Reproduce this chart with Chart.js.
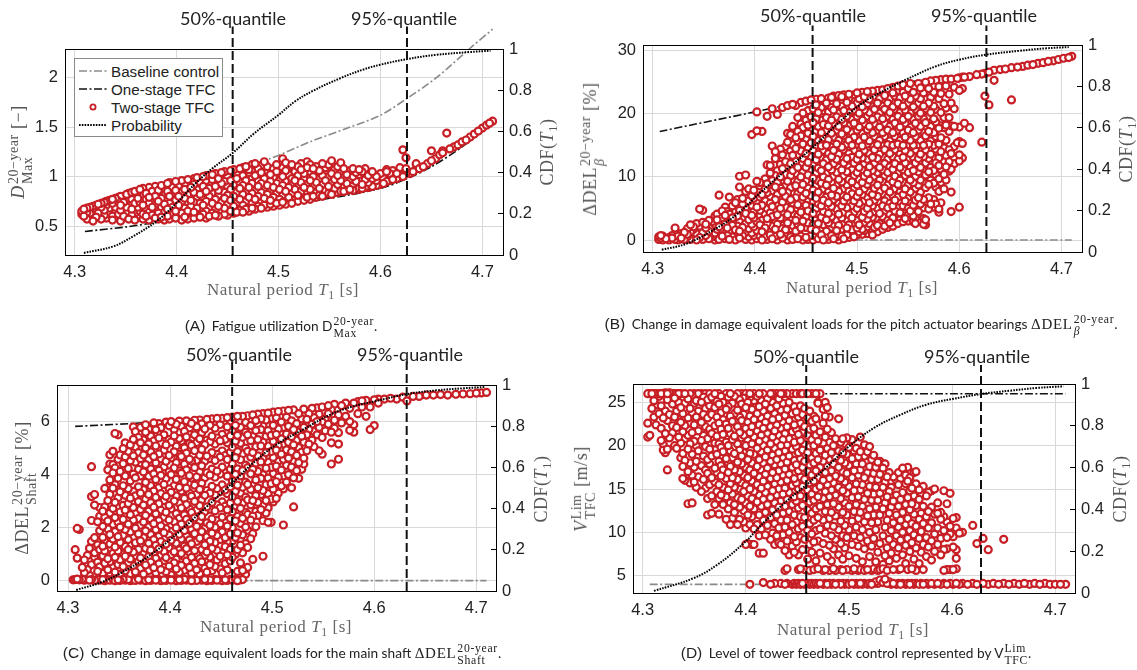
<!DOCTYPE html>
<html>
<head>
<meta charset="utf-8">
<script src="https://cdn.jsdelivr.net/npm/chart.js@4"></script>
<style>
html, body { margin: 0; padding: 0; background: #fff; }
#page { position: relative; width: 1137px; height: 670px; overflow: hidden; }
canvas { position: absolute; }
.lbl { position: absolute; white-space: nowrap; line-height: 1; }
.quant { font: 18px Lato, sans-serif; color: #222; transform: translate(-50%, -50%); }
.axis { font: 17px "Liberation Serif", serif; color: #666; letter-spacing: .55px; transform: translate(-50%, -50%); }
.axis.rot { font-size: 18px; color: #555; transform: translate(-50%, -50%) rotate(-90deg); }
.cap { font: 13.7px Lato, sans-serif; color: #222; transform: translate(-50%, -50%); }
.cap b { font: 15.5px "Liberation Sans", sans-serif; margin-right: 3px; }
.cap .m { font-family: "Liberation Serif", serif; font-size: 15px; letter-spacing: .7px; }
.stack { display: inline-flex; flex-direction: column; vertical-align: middle; font-size: .78em; line-height: 1; text-align: left; margin-left: 1px; }
i { font-style: italic; }
sub { font-size: .7em; line-height: 0; }
#legend { position: absolute; left: 74px; top: 58px; width: 147px; height: 77px; background: #fff; border: 1px solid #8a8a8a; font: 15.2px "Liberation Sans", sans-serif; color: #222; }
#legend div { position: absolute; left: 36px; white-space: nowrap; line-height: 1; }
#legend svg { position: absolute; left: 4px; top: 0; }
</style>
</head>
<body>
<div id="page"></div>
<script>
// tick labels
const xTicks = [4.3, 4.4, 4.5, 4.6, 4.7];
const cdfTicks = [0, 0.2, 0.4, 0.6, 0.8, 1];
const yTicksA = [0.5, 1, 1.5, 2];
const yTicksB = [0, 10, 20, 30];
const yTicksC = [0, 2, 4, 6];
const yTicksD = [5, 10, 15, 20, 25];

// quantile positions
const quantA = [4.455, 4.626];
const quantB = [4.4565, 4.6265];
const quantC = [4.4608, 4.6318];
const quantD = [4.4586, 4.628];

// probability curves [T, CDF]
const cdfA = [[4.309,.01],[4.338,.042],[4.357,.09],[4.38,.163],[4.4,.252],[4.419,.35],[4.435,.42],[4.455,.495],[4.476,.59],[4.5,.68],[4.516,.745],[4.533,.795],[4.561,.859],[4.583,.9],[4.6,.924],[4.626,.951],[4.655,.972],[4.687,.985],[4.708,.992]];
const cdfB = [[4.309,.011],[4.333,.04],[4.36,.108],[4.382,.18],[4.405,.285],[4.431,.398],[4.456,.502],[4.48,.615],[4.503,.712],[4.525,.776],[4.548,.833],[4.577,.897],[4.6,.929],[4.626,.953],[4.659,.972],[4.685,.984],[4.707,.99]];
const cdfC = [[4.308,.005],[4.334,.045],[4.36,.11],[4.383,.183],[4.409,.288],[4.436,.41],[4.461,.524],[4.481,.62],[4.504,.71],[4.53,.783],[4.557,.856],[4.579,.896],[4.6,.92],[4.632,.956],[4.661,.974],[4.687,.984],[4.708,.99]];
const cdfD = [[4.311,.01],[4.349,.07],[4.372,.134],[4.398,.238],[4.42,.35],[4.443,.454],[4.459,.518],[4.479,.605],[4.498,.693],[4.524,.789],[4.55,.853],[4.575,.901],[4.6,.928],[4.628,.952],[4.656,.968],[4.682,.981],[4.708,.989]];

// baseline control
const baseA = [[4.31,.68],[4.4,.9],[4.455,1.07],[4.49,1.175],[4.533,1.36],[4.569,1.496],[4.6,1.62],[4.626,1.79],[4.655,2],[4.687,2.29],[4.71,2.49]];
const baseB = [[4.307,0],[4.71,0]];
const baseC = [[4.307,0],[4.71,0]];
const baseD = [[4.307,4],[4.71,4]];

// one-stage TFC
const oneA = [[4.31,.445],[4.35,.49],[4.39,.55],[4.455,.62],[4.5,.7],[4.55,.78],[4.6,.88],[4.626,.98],[4.65,1.1],[4.68,1.3],[4.71,1.55]];
const oneB = [[4.307,17.2],[4.4,20.3],[4.45,22],[4.5,23.3],[4.55,25],[4.6,26],[4.65,27.2],[4.71,29.1]];
const oneC = [[4.307,5.82],[4.38,5.97],[4.46,6.25],[4.55,6.5],[4.6,6.75],[4.65,6.9],[4.71,7.05]];
const oneD = [[4.307,26],[4.71,26]];

// two-stage TFC, one entry per T: [T, [values]]
const twoA = [
[4.307,[.62,.65]],[4.309,[.6,.67]],[4.312,[.57,.64,.68]],[4.315,[.63,.69]],[4.318,[.55,.61,.7]],[4.321,[.59,.67,.71]],[4.323,[.63,.72]],[4.326,[.57,.69,.73]],[4.329,[.61,.66,.74]],[4.331,[.58,.71,.75]],[4.334,[.63,.68,.76]],[4.337,[.56,.6,.73,.77]],[4.34,[.65,.69,.78]],[4.343,[.58,.62,.75,.79]],[4.345,[.55,.66,.71,.8]],
[4.348,[.6,.74,.8]],[4.351,[.64,.69,.76,.82]],[4.353,[.57,.72,.83]],[4.356,[.61,.67,.77,.84]],[4.359,[.56,.63,.73,.85]],[4.362,[.59,.69,.78,.82]],[4.364,[.65,.74,.87]],[4.367,[.57,.62,.71,.8,.88]],[4.37,[.6,.67,.77,.83]],[4.373,[.56,.64,.73,.79,.89]],[4.376,[.61,.69,.76,.85]],[4.379,[.58,.66,.72,.8,.9]],
[4.382,[.57,.63,.75,.84,.86]],[4.385,[.59,.69,.78,.91]],[4.388,[.56,.64,.72,.82,.88]],[4.391,[.6,.67,.77,.85,.93]],[4.393,[.57,.73,.8,.94]],[4.396,[.62,.69,.83,.89]],[4.399,[.58,.65,.76,.86,.95]],[4.402,[.6,.71,.8,.91]],[4.405,[.56,.63,.74,.84,.96]],[4.408,[.59,.68,.78,.87,.93]],[4.411,[.57,.65,.72,.82,.97]],[4.414,[.6,.7,.76,.89,.95]],
[4.417,[.58,.64,.74,.84,.92,.98]],[4.42,[.61,.68,.79,.87,.99]],[4.423,[.59,.66,.73,.82,.94]],[4.426,[.62,.71,.77,.9,1]],[4.429,[.58,.65,.75,.85,.96,1.01]],[4.432,[.6,.69,.8,.88,.92]],[4.435,[.63,.73,.83,.97,1.02]],[4.438,[.61,.67,.77,.9,1.03]],[4.441,[.6,.7,.81,.86,.98]],[4.444,[.64,.74,.93,1.04]],
[4.447,[.62,.68,.78,.84,.95,1.05]],[4.45,[.61,.72,.81,.9,1]],[4.453,[.65,.76,.87,.96,1.06]],[4.456,[.63,.7,.8,.92,1.07]],[4.459,[.64,.73,.84,.98,1.03]],[4.462,[.66,.77,.88,.94,1.08]],[4.465,[.64,.71,.82,.91,1.01,1.09]],[4.468,[.67,.75,.85,.96,1.1]],[4.471,[.65,.79,.89,1.04,1.07]],[4.474,[.68,.73,.83,.93,.99,1.12]],
[4.477,[.67,.77,.86,1.01,1.13]],[4.48,[.7,.8,.9,.96,1.08]],[4.483,[.68,.74,.84,.93,1.04,1.11]],[4.486,[.71,.78,.88,.98,1.15]],[4.489,[.69,.82,.91,1.06,1.1]],[4.492,[.72,.76,.86,.95,1.02]],[4.495,[.7,.79,.89,.99,1.08]],[4.498,[.73,.83,.93,1.05,1.12]],[4.501,[.71,.77,.87,.96,1.03]],[4.504,[.74,.81,.91,1,1.09,1.18]],
[4.507,[.72,.85,.95,1.06,1.14]],[4.51,[.75,.79,.89,1.02,1.1]],[4.513,[.73,.83,.93,.98,1.12]],[4.516,[.76,.87,.96,1.05]],[4.519,[.75,.81,.91,1.01,1.1]],[4.522,[.78,.85,.94,1.07,1.13]],[4.525,[.76,.89,.98,1.03]],[4.528,[.79,.83,.92,1.09,1.15]],[4.531,[.77,.87,.96,1.05,1.12]],[4.534,[.8,.91,1,1.08]],
[4.537,[.79,.84,.94,1.03,1.1]],[4.54,[.81,.88,.98,1.06]],[4.543,[.8,.92,1.01,1.13]],[4.546,[.82,.86,.96,1.05,1.09]],[4.549,[.83,.9,1,1.12]],[4.552,[.82,.94,1.03,1.16]],[4.555,[.84,.88,.97,1.07]],[4.558,[.84,.92,1.01,1.1]],[4.561,[.85,.96,1.04,1.14]],[4.564,[.85,.89,.99,1.08]],[4.567,[.86,.93,1.02]],
[4.57,[.87,.97,1.06]],[4.573,[.86,.91,1,1.08]],[4.576,[.88,.95,1.04]],[4.579,[.87,.98,1.02,1.07]],[4.582,[.88,.92,1.05]],[4.585,[.89,.97,1.08]],[4.588,[.89,.94,1.01,1.03]],[4.592,[.9,.98,1.05]],[4.596,[.91,.96,1]],[4.6,[.92,1.03]],[4.603,[.93,.98]],[4.606,[.95,1.05,1.07]],[4.609,[.96,1.03]],[4.612,[.97,1.06]],[4.616,[.98,1.03]],
[4.619,[1,1.09]],[4.622,[1,1.27]],[4.625,[1.03,1.08,1.19]],[4.629,[1.03]],[4.632,[1.05]],[4.635,[1.08,1.13]],[4.638,[1.08]],[4.642,[1.1]],[4.646,[1.13]],[4.65,[1.16,1.26]],[4.654,[1.18]],[4.658,[1.22]],[4.661,[1.24,1.26]],[4.665,[1.44]],[4.668,[1.28]],[4.672,[1.3]],[4.676,[1.32]],[4.68,[1.35]],[4.684,[1.37]],[4.688,[1.4]],[4.692,[1.43]],[4.696,[1.46]],[4.7,[1.49]],[4.704,[1.52]],[4.707,[1.54]],[4.71,[1.56]]
];
const twoB = [
[4.306,[.1,.5]],[4.308,[.3,.7]],[4.31,[0,.6]],[4.313,[.2]],[4.316,[0,.4]],[4.319,[.3,.7]],[4.322,[.1,1.9,.9]],[4.325,[0,.6]],[4.328,[.3,1]],[4.331,[.1,1.2]],[4.334,[.5,1.8,.9]],[4.337,[.1,1.3,2.4]],[4.34,[.6,1.7,2.1]],[4.343,[0,1,2.6]],[4.346,[.4,1.6,2.2,4.9]],[4.349,[.1,1.2,2.8,4.7]],[4.352,[.7,1.9,2.5]],[4.355,[.2,1.4,3.1]],[4.358,[.5,2.2,2.9]],[4.361,[0,1.1,2.5,3.8]],
[4.363,[.4,1.7,3.2,4.1]],[4.365,[.1,2.1,2.8,7.1]],[4.368,[.6,1.4,3.5,4.6]],[4.371,[.2,1,2.5,3.9,5.2]],[4.373,[.7,1.9,3.1,4.5]],[4.375,[.1,1.3,2.7,4.1,6.8]],[4.378,[.5,2.3,3.5,5.4]],[4.381,[0,1.6,3,4.4,5.9]],[4.383,[.9,2.2,3.8,5.1,6.4]],[4.385,[.3,1.4,2.9,4.7,8.4,10.1]],[4.388,[.7,2,3.4,5.7,6.6]],[4.391,[.1,1.2,2.6,4.2,5.1,7.7,10.3]],
[4.394,[.5,1.8,3.2,4.8,6.2,8.1]],[4.397,[0,1.1,2.5,3.9,5.5,7,16.7]],[4.399,[.7,2.1,3.5,4.6,6.6,7.9]],[4.402,[.2,1.5,2.9,5.2,5.9,9.3,17.3,20.3]],[4.405,[.6,2.4,3.8,4.7,6.8,8.6,9.1]],[4.407,[0,1.3,3.1,5.5,7.2,17.2]],[4.41,[.5,1.9,4.1,6.2,8,9.7]],[4.412,[.1,2.6,3.4,5,7.5,8.9,11.9,19.6]],[4.415,[.8,1.5,4.3,5.8,6.9,10.6,11.8]],[4.417,[.2,2.2,3.7,5.3,7.8,9.4,14.9,20.8]],
[4.42,[.6,1.7,3,4.6,6.4,8.4,10.2,12.9,14]],[4.422,[0,2.5,4,5.7,7.2,9.1,11,13.3,19.9]],[4.425,[.9,1.9,3.5,5,6.7,8.2,10,12,14.4]],[4.427,[.3,2.3,4.4,6,7.7,9.5,11.3,13.5,21]],[4.43,[.7,1.6,3.2,5.2,6.9,8.7,10.4,12.4,14.8]],[4.432,[0,2.7,4,5.7,7.5,9.3,11.6,13.2,15.5,16.9,21.3]],[4.435,[.5,1.8,3.5,4.8,6.4,8.3,10.2,12.1,14.1,16.7]],[4.437,[.1,2.3,4.2,5.9,7.6,9.6,11,13.4,15.1,18,21.5]],
[4.44,[.8,1.4,3.1,5,6.7,8.6,10.5,12.5,14.5,16.2,17.5,21.3]],[4.442,[.2,2.5,3.8,5.6,7.4,9.3,11.5,13.5,15.7,17.2,19.4]],[4.445,[.6,1.9,4.4,6.2,8,10,12.2,14.1,16.5,18.4,21.8]],[4.447,[0,3,4.9,6.8,8.8,10.8,12.9,15.2,17.8,20.1]],[4.45,[.4,2,3.7,5.5,7.4,9.4,11.5,13.7,16,19,22]],[4.452,[.1,2.7,4.6,6.1,8.2,10.3,12.3,14.6,16.9,18.2,20.5]],
[4.455,[.7,1.7,3.5,5.2,7,9,11,13.2,15.4,17.5,19.5,22.2]],[4.457,[0,2.4,4.2,6,7.9,9.8,11.9,14.1,16.4,18.6,20.8]],[4.46,[.5,1.5,3.2,5,6.6,8.6,10.6,12.7,15,17.2,19.2,21.4,22.3]],[4.462,[.2,2.6,4.1,5.8,7.6,9.4,11.4,13.6,15.8,18,20.2]],[4.465,[.8,1.9,3.6,5.4,7.1,9,11,13,14.9,17,19,21,22.4]],[4.467,[0,2.4,4.5,6.3,8.1,10,12.1,14.2,16.2,18.3,20.5]],
[4.47,[.5,1.4,3.2,5,6.8,8.7,10.5,12.7,15,17.3,19.4,21.7]],[4.472,[.1,2.7,4.2,5.9,7.6,9.6,11.6,13.7,15.9,18.1,20.3,22.5]],[4.475,[.7,2,3.7,5.3,7.1,9.1,11.1,13.2,14.7,16.9,19,21,22.6]],[4.477,[.2,2.5,4.6,6.4,8.2,10.1,12.1,14.2,16.3,18.5,20.6,22.8]],[4.48,[.5,1.5,3.1,4.9,6.9,8.8,10.7,12.8,15.2,17.4,19.5,21.6]],[4.482,[0,2.3,4.1,5.8,7.7,9.6,11.5,13.6,15.8,18,20.1,22.9]],
[4.485,[.6,1.7,3.5,5.4,7.2,9.2,11.1,13.2,14.7,16.8,19.1,21.2,22.7]],[4.487,[.2,2.6,4.4,6.2,8.1,10.2,12.2,14.3,16.5,18.6,20.5,23]],[4.49,[.8,1.9,3.2,5.1,6.8,8.7,10.8,12.9,15.2,17.5,19.6,21.8]],[4.492,[.4,2.4,4,5.8,7.7,9.6,11.6,13.7,15.8,18.1,20.2,22.4,23.1]],[4.495,[1,1.6,3.5,5.4,7.3,9.2,11.1,13.1,15,17,19.1,21.2]],[4.497,[.5,2.6,4.4,6.2,8.1,10.2,12.2,14.2,16.3,18.5,20.6,23]],
[4.5,[.8,1.9,3.1,5,6.9,8.7,10.7,12.8,15.2,17.4,19.6,21.7,23.3]],[4.502,[1.3,2.4,4.1,5.8,7.6,9.6,11.5,13.6,15.7,17.9,20.1,22.4]],[4.505,[.9,1.7,3.6,5.3,7.2,9.1,11.1,13,14.9,16.9,19,21.1,23.4]],[4.507,[1.5,2.8,4.5,6.2,8.1,10.1,12.1,14.2,16.3,18.4,20.6,22.7]],[4.51,[1,2.1,3.3,5,6.8,8.8,10.6,12.8,15.2,17.5,19.6,21.6,23.5]],[4.512,[1.7,2.6,4.1,5.9,7.6,9.5,11.6,13.7,15.7,18,20.2,22.3]],
[4.515,[.8,1.4,3.6,5.4,7.2,9.1,11,13.1,15,17,19.1,21.1,23.6]],[4.517,[2,2.8,4.5,6.3,8.2,10.1,12.2,14.3,16.4,18.4,20.7,22.8]],[4.52,[1.3,2.3,3.3,5,6.9,8.7,10.7,12.9,15.1,17.4,19.5,21.7,23.7]],[4.522,[2.6,4.2,5.9,7.7,9.5,11.5,13.6,15.8,17.9,20.1,22.4]],[4.525,[1.7,3,3.7,5.4,7.3,9.2,11.1,13.2,15,17,19.2,21.2,23.8]],[4.527,[2.2,4.5,6.2,8.2,10.1,12.1,14.3,16.4,18.5,20.7,22.9]],
[4.53,[2,3.1,5.1,6.8,8.7,10.7,12.8,15.1,17.4,19.6,21.7,24]],[4.532,[2.7,4,5.8,7.6,9.6,11.6,13.7,15.7,18,20.2,22.4]],[4.535,[2.2,3.5,5.4,7.1,9.2,11.2,13.2,15,17,19.1,21.1,23.3,24.2]],[4.537,[3,4.6,6.3,8.1,10.1,12.1,14.3,16.4,18.5,20.7,22.8]],[4.54,[2.6,3.8,5.1,6.8,8.8,10.7,12.8,15.2,17.4,19.6,21.7,24.4]],[4.542,[3.2,4.3,5.9,7.6,9.5,11.5,13.6,15.8,17.9,20.2,22.5]],
[4.545,[2.9,3.8,5.4,7.2,9.1,11.1,13.1,15,17,19.1,21.2,23.4,24.6]],[4.547,[3.4,4.7,6.2,8.1,10.2,12.2,14.2,16.3,18.5,20.6,22.8]],[4.55,[3,4.1,5,6.8,8.7,10.7,12.9,15.1,17.4,19.6,21.7,24]],[4.552,[4.6,5.8,7.6,9.5,11.6,13.7,15.8,17.9,20.1,22.3,24.8]],[4.555,[2.9,3.8,5.5,7.2,9.1,11,13.1,15,17,19.1,21.1,23.4]],[4.557,[2.6,3.5,5.2,6.3,8.2,10.1,12.2,14.3,16.4,18.5,20.7,22.8]],
[4.56,[4.5,6.7,8.7,10.8,12.9,15.1,17.4,19.6,21.7,24.8]],[4.562,[5.7,7.6,9.5,11.5,13.6,15.8,18,20.1,22.4,24.1]],[4.565,[2.5,3.4,5.1,6.4,9.1,11,13.2,15,17,19.2,21.2,23.3]],[4.567,[2.4,3.2,5.6,8.3,10.3,12.2,14.3,16.5,18.6,20.8,25]],[4.57,[4.9,6.7,8.8,10.8,12.9,15.2,17.2,19.6,21.7,24]],[4.572,[5.7,9.5,11.5,13.6,15.7,18,20.2,22.6,25.2]],
[4.575,[5.2,6.4,9,11,13,15,17,19.2,21.2,23.4]],[4.577,[5.7,8.4,10.3,12.2,14.4,16.4,18.7,20.7,25.3]],[4.58,[4.4,4.9,7.7,9.7,11.8,13,15.2,17.7,22.4,24.3]],[4.582,[5.9,9.1,11.2,14,16.2,18.1,20.2,23.2,25.4]],[4.585,[8.1,10.4,12.4,14.6,17.8,19.4,21.6]],[4.587,[9.5,11.6,13.4,15.8,18.2,20.9,24.4,25.5]],[4.59,[10.9,12.4,14.3,17.2,19.4,23.1]],[4.592,[4.5,7.6,11.2,13.7,18.1,21.7,25.5]],
[4.595,[12.1,14.8,18,20.8,24.2]],[4.598,[15.4,25.6]],[4.6,[5.2,12.5,13.5,15.6,17.9,23.7,25.7]],[4.603,[13,15.3,24,25.8]],[4.605,[18.5,25.8]],[4.61,[17.8,25.9]],[4.617,[26.2]],[4.622,[15.5,26.3]],[4.625,[22.8,26.4]],[4.629,[21.4,26.6]],[4.634,[25.3,26.9]],[4.64,[27]],[4.645,[27.1]],[4.651,[22.2,27.3]],
[4.657,[27.4]],[4.662,[27.5]],[4.667,[27.7]],[4.672,[27.8]],[4.677,[28]],[4.682,[28.1]],[4.687,[28.3]],[4.692,[28.4]],[4.697,[28.6]],[4.702,[28.8]],[4.707,[28.9]],[4.71,[29.1]]
];
const twoC = [
[4.305,[.03]],[4.307,[.04,1.17]],[4.309,[.06,.85,1.97]],[4.311,[.03,1.93]],[4.314,[.05,.5]],[4.316,[.02,.3,.78]],[4.319,[.06,.42,.95]],[4.321,[.02,.2,1.22]],[4.323,[.04,.6,1.48,2.27,3.17,4.3]],[4.326,[.01,.88,1.05,1.62,2.85,3.25]],[4.329,[.05,.35,.7,1.35,2.22]],[4.331,[.02,.52,1.17,1.88,2.43,2.76]],[4.334,[.04,.28,.94,1.3,1.63,2.05,2.62]],[4.336,[0,.66,1.12,1.5,2.39,2.78,3.48]],[4.339,[.04,.41,.83,1.95,2.25,3.02,3.51,4.18]],[4.341,[.02,.19,.71,1.38,1.74,2.55,3.25,3.8,4.4,4.75]],
[4.344,[.05,.5,1.03,1.57,2.12,2.72,3.49,4.06,4.38,4.88]],[4.346,[0,.32,.88,1.27,1.85,2.38,2.95,3.62,4.25,5.55]],[4.349,[.03,.61,1.12,1.66,2.2,3.13,3.86,4.58,5.5]],[4.351,[.01,.24,.79,1.44,2.02,2.59,3.35,4.12,4.74]],[4.354,[.05,.53,1,1.71,2.31,2.84,3.58,4.41,4.98]],[4.356,[.02,.37,.92,1.29,1.93,2.66,3.22,3.95,4.67,5.2]],[4.359,[.04,.68,1.17,1.55,2.13,2.91,3.47,4.23,4.88]],[4.361,[0,.27,.82,1.36,1.84,2.49,3.11,3.76,4.52,5.12]],
[4.364,[.03,.56,1.08,1.63,2.28,2.76,3.37,4.02,4.71,5.33,5.8]],[4.366,[.01,.33,.94,1.43,1.98,2.55,3.2,3.88,4.47,5.05,5.62]],[4.369,[.05,.72,1.18,1.76,2.34,2.98,3.54,4.2,4.83,5.4]],[4.371,[.02,.46,.86,1.5,2.09,2.68,3.3,3.95,4.6,5.2,5.78]],[4.374,[.04,.25,1.03,1.62,2.21,2.85,3.43,4.1,4.74,5.31]],[4.376,[0,.59,1.22,1.88,2.46,3.07,3.71,4.38,5,5.6,5.88]],[4.379,[.03,.38,.91,1.41,2.03,2.62,3.25,3.93,4.56,5.16,5.72]],[4.381,[.01,.7,1.15,1.74,2.33,2.94,3.58,4.22,4.86,5.45]],
[4.384,[.05,.49,1,1.55,2.15,2.77,3.38,4.03,4.68,5.27,5.95]],[4.386,[.02,.29,.84,1.33,1.92,2.52,3.14,3.81,4.44,5.08,5.69]],[4.389,[.04,.63,1.2,1.67,2.26,2.9,3.51,4.16,4.78,5.38,5.92]],[4.391,[0,.42,.95,1.47,2.07,2.66,3.28,3.97,4.59,5.19,5.77]],[4.394,[.03,.76,1.1,1.81,2.4,3.02,3.63,4.29,4.92,5.5]],[4.396,[.01,.34,.87,1.38,1.96,2.58,3.18,3.85,4.5,5.12,5.98]],[4.399,[.05,.55,1.24,1.72,2.29,2.84,3.46,4.1,4.72,5.32,5.84]],[4.401,[.02,.22,.98,1.52,2.11,2.71,3.33,4,4.63,5.23,6]],
[4.404,[.04,.67,1.09,1.64,2.22,3,3.58,4.25,4.86,5.46,5.7]],[4.406,[0,.44,.81,1.41,1.99,2.53,3.2,3.82,4.45,5.07,5.9]],[4.409,[.03,.31,1.16,1.75,2.35,2.92,3.52,4.14,4.76,5.36,6.02]],[4.411,[.01,.58,1.02,1.57,2.13,2.74,3.38,4.05,4.68,5.26,5.82]],[4.414,[.05,.39,.9,1.3,1.89,2.48,3.1,3.73,4.39,5.01,5.63]],[4.416,[.02,.74,1.21,1.69,2.31,2.87,3.49,4.18,4.81,5.42,6.03]],[4.419,[.04,.5,1.06,1.54,2.16,2.7,3.31,3.96,4.58,5.17,5.76]],[4.421,[0,.28,.88,1.39,1.94,2.57,3.19,3.87,4.51,5.1,5.93]],
[4.424,[.03,.65,1.13,1.77,2.37,2.99,3.6,4.26,4.9,5.5,6.05]],[4.426,[.01,.41,1,1.48,2.05,2.66,3.26,3.91,4.54,5.21,5.8]],[4.429,[.05,.25,.83,1.6,2.24,2.83,3.44,4.11,4.73,5.35,6.06]],[4.431,[.02,.71,1.17,1.85,2.42,3.05,3.67,4.33,4.95,5.58,5.91]],[4.434,[.04,.47,.96,1.35,1.97,2.6,3.22,3.88,4.5,5.13,5.72]],[4.436,[0,.32,1.08,1.65,2.18,2.78,3.4,4.07,4.7,5.3,6.08]],[4.439,[.03,.6,.89,1.49,2.09,2.69,3.3,3.98,4.6,5.24,5.86]],[4.441,[.01,.37,1.22,1.79,2.33,2.95,3.56,4.21,4.83,5.45,6.1]],
[4.444,[.05,.53,1.02,1.43,2.01,2.63,3.24,3.9,4.53,5.15,5.75]],[4.446,[.02,.78,1.14,1.7,2.27,2.86,3.47,4.13,4.76,5.38,6.12]],[4.449,[.04,.44,.92,1.55,2.14,2.74,3.35,4.02,4.66,5.27,5.89]],[4.451,[0,.29,1.06,1.84,2.4,2.97,3.61,4.28,4.89,5.52,6.12]],[4.454,[.03,.64,1.28,1.62,2.2,2.81,3.42,4.08,4.72,5.33,5.95]],[4.456,[.01,.4,.97,1.47,2.06,2.67,3.28,3.94,4.57,5.2,5.8,6.15]],[4.459,[.05,.75,1.18,1.76,2.34,2.93,3.54,4.2,4.84,5.46,6.02]],[4.461,[.02,.88,1.5,2,2.6,3.16,3.75,4.41,5.03,5.65,6.17]],
[4.464,[.04,.99,1.63,2.25,2.82,3.37,4.01,4.64,5.26,5.86]],[4.466,[0,.35,1.17,1.8,2.42,2.99,3.6,4.22,4.87,5.48,6.2]],[4.469,[.03,.67,1.34,1.54,2.16,2.73,3.3,3.95,4.56,5.18,5.78]],[4.471,[.04,.38,1.05,1.73,2.35,2.92,3.52,4.15,4.78,5.41,6.2]],[4.474,[.24,.44,1.4,2.02,2.58,3.15,3.72,4.36,5,5.6,5.97]],[4.476,[.5,1.25,1.9,2.5,3.05,3.63,4.26,4.88,5.5,6.22]],[4.479,[1.58,2.28,2.86,3.44,4.03,4.66,5.28,5.85]],[4.481,[.8,1.77,2.43,3.02,3.6,4.2,4.83,5.45,6.25]],
[4.484,[2.03,2.61,3.21,3.8,4.43,5.05,5.66,6.04]],[4.486,[2.46,2.95,3.5,4.12,4.71,5.32,5.92,6.28]],[4.489,[2.68,3.25,3.86,4.48,5.08,5.7,6.1]],[4.491,[.92,2.26,2.85,3.4,4,4.6,5.22,5.84,6.3]],[4.494,[2.55,3.02,3.62,4.24,4.83,5.44,6.06]],[4.496,[2.2,2.74,3.28,3.87,4.47,5.08,5.66,6.32]],[4.499,[2.2,3.07,3.66,4.27,4.87,5.48,6.12]],[4.501,[2.97,3.45,4.04,4.65,5.25,5.86,6.36]],
[4.504,[3.1,3.73,4.32,4.92,5.52,6.15]],[4.506,[3.3,3.9,4.5,5.1,5.72,6.38]],[4.509,[3.57,4.17,4.77,5.35,5.98]],[4.511,[2.1,3.46,3.95,4.58,5.15,5.78,6.4]],[4.514,[3.72,4.35,4.93,5.53,6.17]],[4.516,[4,4.62,5.22,5.82,6.42]],[4.519,[3.5,4.28,4.86,5.43,6.03]],[4.521,[2.78,3.88,4.5,5.12,5.7,6.44]],
[4.524,[4.15,4.72,5.3,5.92]],[4.526,[3.86,4.45,5.02,5.6,6.3]],[4.529,[4.2,4.85,5.45,6.1]],[4.531,[4.4,4.62,5.22,5.78,6.47]],[4.534,[4.9,5.5,6.08]],[4.536,[5.15,5.7,6.3]],[4.539,[5.3,5.9,6.5]],[4.541,[5.05,5.63,6.15]],[4.544,[5.5,6,6.52]],[4.546,[4.9,5.78,6.28]],[4.549,[4.77,5.4,5.98,6.55]],[4.552,[5.65,6.1]],[4.555,[5.9,6.3,6.6]],
[4.558,[4.4,5.2,5.6,6.45]],[4.561,[5.75,6.05,6.65]],[4.565,[4.58,5.15,5.58,6.25]],[4.568,[5.95,6.6]],[4.572,[6.2,6.7]],[4.576,[5.67,6,6.5]],[4.58,[5.6,5.88,6.7]],[4.584,[6.3,6.75]],[4.588,[6.55,6.78]],[4.592,[6.2,6.8]],[4.596,[5.7,6.55]],[4.6,[5.85,6.82]],[4.604,[6.7,6.85]],[4.61,[6.85]],[4.616,[6.88]],[4.622,[6.85]],[4.628,[6.92]],[4.632,[6.78]],[4.638,[6.95]],[4.644,[6.95]],[4.651,[7]],[4.658,[7]],[4.665,[7.02]],[4.672,[7]],[4.68,[7.03]],[4.687,[7.04]],[4.694,[7.05]],[4.7,[7.07]],[4.705,[7.08]],[4.71,[7.1]]
];
const twoD = [
[4.305,[21,22.6,26]],[4.307,[21.2,26]],[4.309,[24.3,26]],[4.311,[23.3,25.2,26]],[4.313,[22.4,24.7,26]],[4.316,[25.7,23.7,26]],[4.318,[20.6,22,24.6,26]],[4.32,[20.2,19.5,23.2,26]],[4.322,[19.2,21.4,24,26.1]],[4.324,[17.2,19.6,22.9,25.3,26]],[4.326,[20.9,23.6,26.1]],[4.329,[21.5,24.8,22.3,26]],[4.331,[20,23.3,25.5,26]],[4.333,[19.7,22.1,24,26]],[4.335,[21,23,25,26]],
[4.337,[18.6,20.3,22.7,24.4,26]],[4.339,[16.2,17.6,19.1,21.6,23.7,25.6]],[4.341,[16,18.3,20.8,22.3,24.9,26]],[4.344,[13.3,17,19.6,21.2,23.2,25.4]],[4.346,[15.7,18,20.2,22.6,24.3,26]],[4.348,[13.4,16.6,19,21.5,23.8,25.8]],[4.35,[15.8,17.5,20.5,22.4,24.9,26]],[4.352,[15.2,18.2,20,23.3,25.2]],[4.354,[16.4,19.4,21.7,24,26]],[4.357,[14.7,17.7,20.6,22.7,25,26]],[4.359,[16.1,18.8,21.2,23.6,25.6]],
[4.361,[15.1,17.2,19.9,22.2,24.3,26]],[4.363,[12,13.9,16.8,18.4,20.8,23.2,25.3]],[4.365,[15.5,17.9,19.6,21.9,24.6,26]],[4.367,[12.2,14.2,16.3,18.8,21.4,23.6,25.6]],[4.37,[13.2,15.8,17.4,20.3,22.3,24.4,26]],[4.372,[14.7,16.9,19,21.1,23.3,25.1]],[4.374,[12.1,13.9,15.5,18.2,20.2,22.6,24.8,26]],[4.376,[14.3,16.5,17.7,19.8,21.9,23.8,25.7]],[4.378,[13.2,15.2,17.2,19.3,21.3,23,25]],[4.381,[11.5,14.1,16.2,18.5,20.4,22.5,24.2,26]],
[4.383,[12.7,14.9,16.9,18,20,22,24.5,25.6]],[4.385,[10.9,13.4,15.6,17.6,19.4,21.4,23.4,26]],[4.387,[11.6,14.4,16.3,18.6,20.7,22.8,24.9]],[4.389,[12.3,13.2,15.2,17.2,19.1,21.1,23.7,25.7]],[4.392,[10.9,14,16.1,18.1,20.2,22.2,24.1,26]],[4.394,[11.5,12.9,15,17,19.5,21.5,23.3,25.3]],[4.396,[13.8,15.7,17.9,18.8,20.9,22.9,24.8,26]],[4.398,[11.2,12.5,14.7,16.6,19.2,21.2,23.6,25.5]],[4.4,[8.6,10.5,13.4,15.4,17.5,20,22,24.4,26]],
[4.402,[8.7,12,14.2,16.3,18.4,20.6,22.7,25]],[4.404,[4,10.9,13,15,17.2,19.1,21.5,23.4,25.6,26]],[4.406,[8.6,11.8,13.9,15.9,18,20.2,22.2,24.2]],[4.408,[8.6,10.4,12.7,14.7,16.8,19,21,23,25.2,26]],[4.411,[10.9,13.5,15.5,17.6,19.7,21.7,23.7,25.7]],[4.413,[7.6,9.6,12,14.3,16.4,18.4,20.5,22.4,24.5,26]],[4.415,[10.4,13,15.1,17.2,19.3,21.2,23.2,25.2]],[4.417,[4.2,7.6,11.4,13.8,15.9,18,20,22,24,26]],
[4.419,[9.7,12.3,14.6,16.7,18.7,20.7,22.7,24.8,25.7]],[4.421,[10.8,13.2,15.3,17.4,19.5,21.4,23.4,25.4]],[4.424,[4,9.2,11.7,14,16.2,18.2,20.2,22.2,24.3,26]],[4.426,[9.9,12.6,14.8,16.9,18.9,21,23,25,26]],[4.428,[4.1,8.6,11,13.4,15.6,17.8,19.7,21.7,23.7]],[4.43,[9.6,12,14.3,16.3,18.4,20.5,22.4,24.6,26]],[4.432,[8.8,10.5,12.9,15,17.1,19.2,21.2,23.2,25.4]],
[4.434,[4.1,8.6,11.4,13.6,15.8,17.9,20,22,24.1,26]],[4.436,[9.7,12.2,14.4,16.6,18.6,20.7,22.7,24.9,26]],[4.438,[4,5.6,7.9,10.6,13,15.1,17.3,19.4,21.4,23.5]],[4.44,[4.1,5.8,9,11.4,13.8,16,18.1,20.1,22.2,24.2,26]],[4.442,[7.4,10,12.4,14.6,16.7,18.8,20.8,22.9,25]],[4.445,[4,8.4,10.9,13.2,15.4,17.5,19.6,21.6,23.7,26]],[4.447,[4.1,7.7,9.5,12,14.1,16.2,18.3,20.4,22.4,24.5]],
[4.449,[4,8.9,11.2,13.6,15.7,17.8,19.9,21.9,23.9,26]],[4.451,[4.1,5.7,7.4,10.4,12.8,15,17.1,19.2,21.3,23.3]],[4.453,[4,5.8,9.4,11.8,14.2,16.4,18.5,20.6,22.6,24.6,26]],[4.455,[4.1,8,10.7,13.1,15.3,17.5,19.5,21.5,23.6,26]],[4.457,[4,5.7,9.2,11.7,14,16.1,18.2,20.2,22.2,24.3]],[4.46,[4.1,6.9,10.2,12.6,14.9,17,19.2,21.2,23.2,26]],[4.462,[4,5.6,8.6,11,13.5,15.7,17.8,19.9,21.9,24]],
[4.464,[4.1,7.7,9.8,12.2,14.4,16.6,18.6,20.7,22.8,26]],[4.466,[4,5.7,8.9,11.4,13.7,15.9,18,20,22,23.4]],[4.468,[4.1,6.7,10.2,12.7,15,17.1,19.1,21.2,23.1,26]],[4.47,[4,5.8,9,11.7,14.1,16.3,18.4,20.5,24.9,25]],[4.472,[4.1,7.6,10.4,13,15.3,17.5,19.5,21.6,26]],[4.475,[4,5.6,8.7,11.4,13.9,16,18.2,20.3,22.6,24.2]],[4.477,[4.1,5.7,9.9,12.4,14.7,16.9,18.9,21,23.4,25]],
[4.479,[4,7.2,10.8,13.2,15.5,17.6,19.7,21.9,24.4]],[4.481,[4.1,5.6,8.5,11.6,14.1,16.2,18.4,20.4,23.3]],[4.483,[4,6.7,9.6,12.3,14.9,17.1,19.2,21.5]],[4.485,[4.1,5.8,8.1,10.7,13.3,15.7,17.9,20]],[4.487,[4,5.6,9.2,11.9,14.3,16.5,18.7,20.8]],[4.49,[4.1,7.4,10.3,12.9,15.2,17.5,19.4,23.1]],[4.492,[4,5.7,8.7,11.3,13.9,16.2,18.3,20.4]],[4.494,[4.1,5.6,6.9,9.6,12.3,14.8,17,19.2,20.8]],
[4.496,[4,8.2,10.8,13.4,15.8,18,20.2]],[4.498,[4.1,5.7,9.4,12,14.5,16.8,19,20.9]],[4.5,[4,7.3,10.3,13,15.3,17.7,19.8]],[4.503,[4.1,5.6,8.6,11.3,14,16.3,18.5,20.7]],[4.505,[4,5.8,9.6,12.4,14.8,17.1,19.4]],[4.507,[4.1,7,10.6,13.2,15.6,17.9,19.7]],[4.509,[4,5.6,8.4,11.6,14.1,16.6,18.7]],[4.511,[4.1,5.7,9.4,12.3,14.9,17.2,19.3,21]],[4.513,[4,6.6,10.3,13,15.5,17.9]],
[4.515,[4.1,5.6,8.1,11.2,13.8,16.3,18.8,20.1]],[4.518,[4,5.7,9,11.9,14.5,16.9,19.3]],[4.52,[4.1,7.2,10,12.7,15.3,17.6,19.9]],[4.522,[4,5.6,8.4,11.1,13.7,16.1,18.4]],[4.524,[4.1,5.8,9.3,12,14.4,16.8,18.9]],[4.526,[4.3,6.6,10.3,12.9,15.2,17.5]],[4.528,[4.1,5.6,7.7,11.2,13.7,16.1,18.1]],[4.53,[4.5,5.7,8.7,12,14.5,16.7,18.2]],
[4.533,[4.2,5.8,6.3,9.6,12.7,15.2,17.4]],[4.535,[4.6,7.3,10.6,13.4,15.8,17.9]],[4.537,[4.1,5.6,8.2,11.4,14.1,16.4]],[4.539,[4.3,6.7,9.2,12.2,14.7,16.9]],[4.541,[4,7.6,10.2,12.9,15.2]],[4.543,[4.1,5.7,8.6,11.1,13.6,16.4]],[4.546,[4,7,9.6,12,14.3,16]],[4.548,[4.1,5.7,8.2,10.6,13,15.5,16.9]],[4.55,[4,5.8,9.1,11.4,13.8,16.2]],
[4.552,[4.1,7.4,10,12.3,14.6,17.4]],[4.555,[4,6.4,8.5,10.9,13.2,15.6,16.6]],[4.557,[4.1,5.7,9.3,11.6,14,15.9,17.5]],[4.559,[4,7.8,10.2,12.6,14.8,16.3]],[4.561,[4.1,5.8,8.8,11,13.3,15.1]],[4.563,[4,6.9,9.7,12.1,14.2,16.9]],[4.565,[4.1,5.6,8.2,10.7,13.1,15.6,17]],[4.568,[4,6.4,9.3,11.5,13.8,14.9]],
[4.57,[4.1,7.7,10.1,12.2,14.3]],[4.572,[4,5.7,8.6,11,13,15.3]],[4.575,[4.1,7.2,9.4,11.8,14.2]],[4.577,[4,8.3,10.5,12.4,14.6]],[4.58,[4.1,6.8,9,11.1,12.9,14.8]],[4.583,[4,7.8,9.8,12.1,15]],[4.586,[4.1,8.6,10.5,12.2,13.4]],[4.589,[4,7.4,9.3,11.5,12.3]],[4.592,[4.1,5.6,8,10.2,11.8,14.8]],[4.595,[4,5.7,8.1,9.4,11.2,13.3]],[4.598,[4.1,5.7,9.8,10.7,14.5]],
[4.601,[4,5.7,8.3,9.5,11.6]],[4.604,[4.1,5.8,7,8,11.7,10.5]],[4.607,[4,9.9]],[4.61,[4.1,10]],[4.615,[4]],[4.62,[4.1,10.8]],[4.624,[4,8.7]],[4.63,[4.1,9.3]],[4.635,[4,8]],[4.64,[4.1]],[4.645,[4]],[4.65,[4.1,9.2]],[4.655,[4]],[4.66,[4.1]],[4.665,[4]],[4.67,[4.1]],[4.675,[4]],[4.68,[4.1]],[4.685,[4]],[4.69,[4.1]],[4.695,[4]],[4.7,[4]],[4.705,[4]],[4.71,[4]]
];

// axis ranges and plot rectangle of each panel, in canvas pixels
const panels = [
  { box: [0, 0, 570, 335], plot: [65, 49, 503, 255], xRange: [4.2905, 4.7202], yRange: [0.207, 2.29], yTicks: yTicksA, quant: quantA, qTop: 2.518, cdf: cdfA, base: baseA, one: oneA, two: twoA },
  { box: [570, 0, 567, 335], plot: [73, 45, 512, 252], xRange: [4.2906, 4.72], yRange: [-1.9, 30.9], yTicks: yTicksB, quant: quantB, qTop: 34, cdf: cdfB, base: baseB, one: oneB, two: twoB },
  { box: [0, 340, 570, 330], plot: [57, 45, 496, 251], xRange: [4.2892, 4.7193], yRange: [-0.39, 7.38], yTicks: yTicksC, quant: quantC, qTop: 8.28, cdf: cdfC, base: baseC, one: oneC, two: twoC },
  { box: [570, 340, 567, 330], plot: [63, 44, 505, 253], xRange: [4.2907, 4.7191], yRange: [3, 27.12], yTicks: yTicksD, quant: quantD, qTop: 29.3, cdf: cdfD, base: baseD, one: oneD, two: twoD }
];

const toPoints = list => list.map(p => ({ x: p[0], y: p[1] }));

// draw the rings in a mixed order, otherwise each column overlaps the one before it
function ringPoints(columns) {
  const pts = columns.flatMap(c => c[1].map(v => ({ x: c[0], y: v })));
  return pts.map((pt, i) => [(i * 617) % 2003, pt]).sort((a, b) => a[0] - b[0]).map(e => e[1]);
}

// top edge of the frame, chart.js only gives us the other three sides
const frameTop = {
  id: 'frameTop',
  afterDraw(chart) {
    const a = chart.chartArea, c = chart.ctx;
    c.save();
    c.strokeStyle = '#000';
    c.lineWidth = 1;
    c.beginPath();
    c.moveTo(a.left, Math.round(a.top) + .5);
    c.lineTo(a.right, Math.round(a.top) + .5);
    c.stroke();
    c.restore();
  }
};

const page = document.getElementById('page');

panels.forEach(p => {
  const [bx, by, bw, bh] = p.box;
  const [pl, pt, pr, pb] = p.plot;
  const canvas = document.createElement('canvas');
  canvas.width = bw;
  canvas.height = bh;
  canvas.style.cssText = `left:${bx}px;top:${by}px;width:${bw}px;height:${bh}px`;
  page.appendChild(canvas);

  const quantLine = (x) => ({
    data: [{ x: x, y: p.yRange[0] }, { x: x, y: p.qTop }],
    showLine: true, borderColor: '#111', borderWidth: 2, borderDash: [9, 4],
    pointRadius: 0, clip: false
  });

  new Chart(canvas, {
    type: 'scatter',
    data: {
      datasets: [
        quantLine(p.quant[0]),
        quantLine(p.quant[1]),
        { data: toPoints(p.cdf), yAxisID: 'y2', showLine: true, borderColor: '#000', borderWidth: 2, borderDash: [1.6, 1.2], tension: .4, pointRadius: 0, clip: false },
        { data: ringPoints(p.two), pointRadius: 3.5, pointBorderWidth: 2.2, pointBorderColor: '#c71f25', pointBackgroundColor: '#fff', showLine: false, clip: false },
        { data: toPoints(p.one), showLine: true, borderColor: '#111', borderWidth: 1.6, borderDash: [8, 2.5, 2, 2.5], tension: .3, pointRadius: 0, clip: false },
        { data: toPoints(p.base), showLine: true, borderColor: '#8a8a8a', borderWidth: 1.6, borderDash: [8, 2.5, 2, 2.5], tension: .3, pointRadius: 0, clip: false }
      ]
    },
    plugins: [frameTop],
    options: {
      responsive: false,
      animation: false,
      layout: { padding: { top: pt, left: 0, right: 0, bottom: 0 } },
      plugins: { legend: { display: false }, tooltip: { enabled: false } },
      scales: {
        x: {
          type: 'linear', min: p.xRange[0], max: p.xRange[1],
          afterBuildTicks: s => { s.ticks = xTicks.map(v => ({ value: v })); },
          afterFit: s => { s.height = bh - pb; },
          border: { color: '#000' },
          grid: { color: '#d9d9d9', drawTicks: false },
          ticks: { font: { family: 'Liberation Sans', size: 16.5 }, color: '#222', padding: 8, maxRotation: 0, callback: v => String(v) }
        },
        y: {
          min: p.yRange[0], max: p.yRange[1],
          afterBuildTicks: s => { s.ticks = p.yTicks.map(v => ({ value: v })); },
          afterFit: s => { s.width = pl; },
          border: { color: '#000' },
          grid: { color: '#d9d9d9', drawTicks: false },
          ticks: { font: { family: 'Liberation Sans', size: 16.5 }, color: '#222', padding: 7, callback: v => String(v) }
        },
        y2: {
          position: 'right', min: 0, max: 1,
          afterBuildTicks: s => { s.ticks = cdfTicks.map(v => ({ value: v })); },
          afterFit: s => { s.width = bw - pr; },
          border: { color: '#000' },
          grid: { drawOnChartArea: false, tickLength: -5, tickColor: '#000' },
          ticks: { font: { family: 'Liberation Sans', size: 16.5 }, color: '#222', padding: 11, callback: v => String(v) }
        }
      }
    }
  });
});

// text that needs stacked sub/superscripts lives in html on top of the canvases
function label(cls, x, y, html) {
  const el = document.createElement('div');
  el.className = 'lbl ' + cls;
  el.style.left = x + 'px';
  el.style.top = y + 'px';
  el.innerHTML = html;
  page.appendChild(el);
}
const stack = (a, b) => `<span class="stack"><span>${a}</span><span>${b}</span></span>`;
const xTitle = 'Natural period <i>T</i><sub>1</sub> [s]';
const cdfTitle = 'CDF(<i>T</i><sub>1</sub>)';

label('quant', 233, 18, '50%-quantile');
label('quant', 404, 18, '95%-quantile');
label('quant', 813, 15, '50%-quantile');
label('quant', 984, 15, '95%-quantile');
label('quant', 239, 354, '50%-quantile');
label('quant', 410, 354, '95%-quantile');
label('quant', 806, 356, '50%-quantile');
label('quant', 977, 356, '95%-quantile');

label('axis', 283, 290, xTitle);
label('axis', 862, 288, xTitle);
label('axis', 276, 627, xTitle);
label('axis', 853, 630, xTitle);

label('axis rot', 547, 152, cdfTitle);
label('axis rot', 1126, 149, cdfTitle);
label('axis rot', 541, 489, cdfTitle);
label('axis rot', 1120, 489, cdfTitle);

label('axis rot', 20, 152, '<i>D</i>' + stack('20\u2212year', 'Max') + ' [\u2212]');
label('axis rot', 592, 149, '\u0394DEL' + stack('20\u2212year', '<i>\u03b2</i>') + ' [%]');
label('axis rot', 24, 488, '\u0394DEL' + stack('20\u2212year', 'Shaft') + ' [%]');
label('axis rot', 583, 489, '<i>V</i>' + stack('Lim', 'TFC') + ' [m/s]');

label('cap', 281, 328, '<b>(A)</b> Fatigue utilization D<span class="m">' + stack('20-year', 'Max') + '</span>.');
label('cap', 861, 326, '<b>(B)</b> Change in damage equivalent loads for the pitch actuator bearings <span class="m">\u0394DEL' + stack('20-year', '<i>\u03b2</i>') + '</span>.');
label('cap', 282, 655, '<b>(C)</b> Change in damage equivalent loads for the main shaft <span class="m">\u0394DEL' + stack('20-year', 'Shaft') + '</span>.');
label('cap', 856, 655, '<b>(D)</b> Level of tower feedback control represented by V<span class="m">' + stack('Lim', 'TFC') + '</span>.');

// legend of panel A
const legendRows = [
  ['Baseline control', 12, '<line x1="0" x2="28" stroke="#8a8a8a" stroke-width="1.6" stroke-dasharray="8 2.5 2 2.5"/>'],
  ['One-stage TFC', 30, '<line x1="0" x2="28" stroke="#111" stroke-width="1.6" stroke-dasharray="8 2.5 2 2.5"/>'],
  ['Two-stage TFC', 48, '<circle cx="14" cy="0" r="2.6" fill="#fff" stroke="#c71f25" stroke-width="1.8"/>'],
  ['Probability', 66, '<line x1="0" x2="28" stroke="#000" stroke-width="1.8" stroke-dasharray="1.6 1.2"/>']
];
const legend = document.createElement('div');
legend.id = 'legend';
legend.innerHTML = legendRows.map(r =>
  `<svg width="30" height="12" viewBox="0 -6 30 12" style="top:${r[1] - 6}px">${r[2]}</svg><div style="top:${r[1] - 7}px">${r[0]}</div>`
).join('');
page.appendChild(legend);
</script>
</body>
</html>
